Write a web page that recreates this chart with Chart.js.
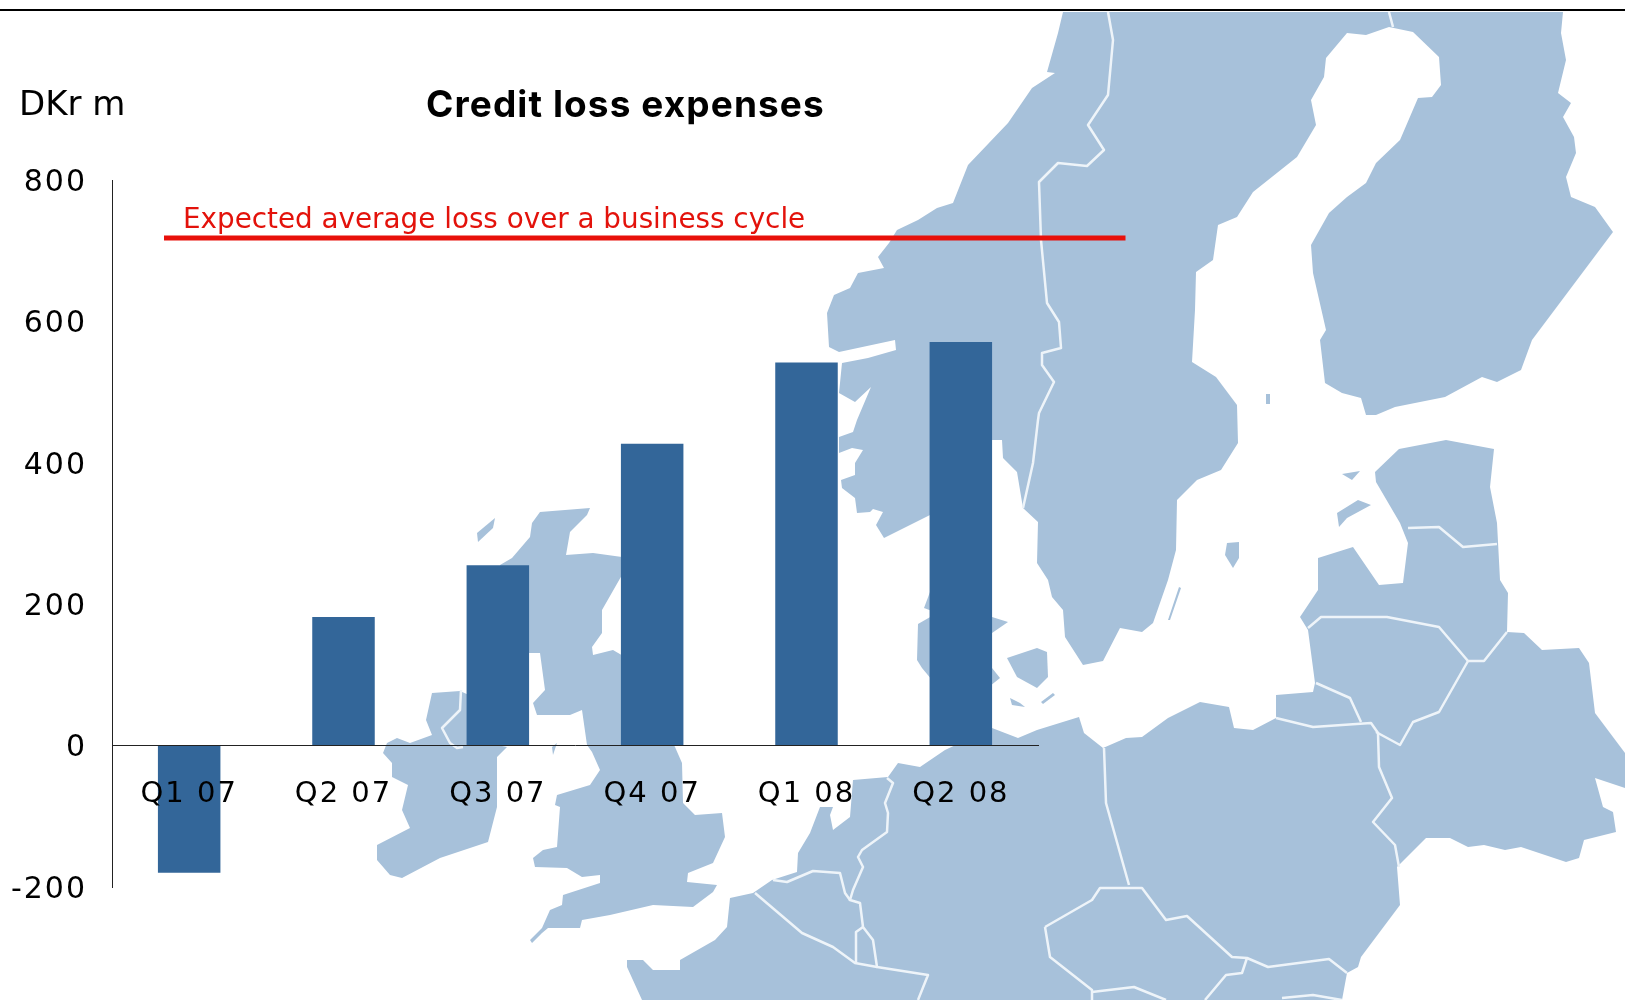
<!DOCTYPE html>
<html>
<head>
<meta charset="utf-8">
<title>Credit loss expenses</title>
<script src="https://cdn.jsdelivr.net/npm/chart.js@4/dist/chart.umd.min.js"></script>
<style>
	body { margin: 0; background: #fff; }
	canvas { display: block; }
</style>
</head>
<body>
<canvas id="creditLoss" width="1625" height="1000"></canvas>
<script>
const categories = ["Q1 07", "Q2 07", "Q3 07", "Q4 07", "Q1 08", "Q2 08"];
const creditLoss = [-180, 182, 255, 427, 542, 571];
const yTicks = [800, 600, 400, 200, 0, -200];
const expectedLoss = [718, 718];
// line start and end, as positions on the category axis (0 = Q1 07)
const expectedLossSpan = [-0.163, 6.067];

// backdrop map, traced by hand in page pixels
const mapLand = [
	// Norway, Sweden, Finland
	[1063,12,1058,33,1047,72,1055,73,1032,88,1008,123,968,165,953,203,937,208,918,220,897,230,889,243,878,257,884,268,858,273,850,288,834,295,827,313,829,347,839,352,895,340,896,350,868,358,842,363,839,393,855,402,871,387,857,420,853,432,839,437,839,453,852,448,863,450,855,463,855,475,841,480,842,488,855,498,857,513,870,512,873,509,883,512,876,525,884,538,930,515,992,470,992,440,1002,440,1003,458,1017,472,1023,508,1038,522,1037,563,1048,580,1052,597,1063,610,1065,637,1083,665,1103,661,1120,628,1142,632,1153,623,1168,580,1176,550,1177,500,1197,480,1221,470,1238,443,1237,405,1216,377,1192,362,1195,310,1196,272,1213,260,1218,225,1237,217,1253,192,1297,157,1316,125,1311,100,1324,77,1326,58,1347,33,1366,35,1389,27,1413,32,1439,57,1441,85,1432,97,1418,98,1400,140,1376,163,1366,183,1347,197,1329,213,1311,245,1313,273,1326,330,1320,340,1325,383,1342,393,1361,398,1366,415,1376,415,1395,407,1445,397,1482,377,1497,382,1521,370,1532,340,1613,232,1595,207,1571,197,1566,177,1576,153,1574,137,1563,117,1571,103,1558,93,1566,60,1561,33,1563,12],
	// continent, from the French coast round to the east edge
	[642,1000,627,967,627,960,643,960,653,970,680,970,680,960,715,940,727,927,730,898,753,893,772,880,797,872,798,853,810,833,820,807,833,807,830,815,833,830,850,817,853,780,888,777,898,763,920,767,945,750,992,728,1018,738,1037,730,1079,717,1084,733,1103,748,1126,738,1142,737,1168,718,1200,702,1229,707,1234,728,1253,730,1276,718,1276,695,1313,692,1315,683,1308,630,1300,617,1318,590,1318,558,1353,547,1379,585,1403,583,1408,543,1400,523,1376,482,1375,472,1399,449,1446,440,1494,449,1490,487,1497,523,1500,580,1508,593,1507,632,1524,633,1542,650,1579,648,1589,663,1595,713,1625,753,1625,788,1595,778,1603,807,1613,812,1616,832,1584,840,1579,858,1566,862,1521,847,1505,850,1484,845,1468,847,1450,838,1426,838,1397,867,1400,905,1361,957,1358,967,1347,973,1342,1000],
	// Great Britain
	[540,512,590,508,587,515,570,532,566,555,593,553,622,557,622,575,602,610,602,633,592,647,593,655,613,650,630,660,675,747,682,763,683,803,695,815,722,813,725,837,713,863,688,873,687,882,717,885,713,892,693,907,653,905,610,915,582,920,580,928,548,928,542,933,532,943,530,940,542,928,550,910,562,905,563,895,600,883,600,875,582,877,567,868,535,867,533,858,543,850,557,847,560,807,555,805,557,795,590,785,600,770,592,752,587,745,582,710,570,715,537,715,533,703,545,690,540,653,500,653,500,565,512,558,530,537,532,523],
	// Ireland
	[432,693,460,691,480,700,497,745,507,747,497,757,497,807,488,842,440,858,402,878,390,875,377,860,377,845,410,828,402,810,408,785,392,777,392,763,383,753,387,743,397,738,410,743,432,735,426,720],
	// Denmark
	[930,592,924,608,932,611],
	[932,616,918,624,917,660,922,668,932,680,985,690,1000,678,992,668,992,633,1008,622,992,617],
	[1007,658,1037,648,1047,652,1048,677,1037,688,1017,677],
	[1010,698,1020,703,1025,707,1012,705],
	[1041,702,1053,693,1055,695,1043,704],
	// Baltic islands and small ones
	[1227,543,1239,542,1239,558,1233,568,1225,555],
	[1337,513,1358,500,1371,505,1347,518,1339,527],
	[1342,474,1360,471,1352,480],
	[1179,587,1181,588,1170,620,1168,620],
	[1266,394,1270,394,1270,404,1266,404],
	[477,533,495,518,493,528,478,542],
	[552,747,557,743,553,755]
];
const mapBorders = [
	[1108,12,1113,40,1108,95,1088,125,1104,150,1087,166,1058,163,1039,182,1041,240,1047,303,1059,322,1061,348,1042,353,1042,365,1054,382,1039,413,1038,420,1033,463,1023,508],
	[1389,12,1393,27],
	[1408,528,1439,527,1463,547,1497,544],
	[1308,628,1321,617,1387,617,1439,627,1468,661,1484,661,1507,632],
	[1468,661,1439,712,1413,722,1400,745,1376,732],
	[1316,683,1350,698,1361,722],
	[1276,718,1313,727,1371,723,1378,733,1379,767,1392,798,1373,822,1395,845,1399,867],
	[1104,748,1106,803,1129,885],
	[1045,927,1092,900,1100,888,1142,888,1166,920,1187,916,1232,957,1247,958,1268,967,1329,959,1347,973],
	[1045,927,1050,957,1092,990,1092,1000],
	[1092,992,1134,987,1166,1000],
	[1247,958,1242,973,1226,975,1205,1000],
	[1282,998,1313,995,1342,1000],
	[887,778,893,783,885,803,888,813,887,832,862,850,858,857,863,867,853,890,850,900,860,903,863,927,873,940,877,967,928,975,918,1000],
	[773,880,787,882,813,871,840,873,845,893,850,900],
	[755,893,802,933,833,947,855,963,877,967],
	[863,927,856,932,856,963],
	[461,690,460,710,442,728,450,743,457,748,463,747]
];

function tracePoints(ctx, points) {
	ctx.beginPath();
	ctx.moveTo(points[0], points[1]);
	for (let i = 2; i < points.length; i += 2) {
		ctx.lineTo(points[i], points[i + 1]);
	}
}

const backdrop = {
	id: "backdrop",
	beforeDraw(chart) {
		const ctx = chart.ctx;
		ctx.save();
		ctx.fillStyle = "#ffffff";
		ctx.fillRect(0, 0, chart.width, chart.height);
		ctx.fillStyle = "#a7c1da";
		mapLand.forEach((points) => {
			tracePoints(ctx, points);
			ctx.closePath();
			ctx.fill();
		});
		ctx.strokeStyle = "#eef4f9";
		ctx.lineWidth = 2.5;
		ctx.lineJoin = "round";
		mapBorders.forEach((points) => {
			tracePoints(ctx, points);
			ctx.stroke();
		});
		ctx.fillStyle = "#000000";
		ctx.fillRect(0, 9, chart.width, 2);
		ctx.restore();
		// the wide look of the tick labels
		ctx.letterSpacing = "2px";
	},
};

const captions = {
	id: "captions",
	afterDraw(chart) {
		const ctx = chart.ctx;
		ctx.save();
		ctx.textBaseline = "alphabetic";
		ctx.fillStyle = "#000000";
		ctx.letterSpacing = "0px";
		ctx.font = "34px 'DejaVu Sans'";
		ctx.fillText("DKr m", 19, 115);
		ctx.letterSpacing = "1.1px";
		ctx.font = "bold 37px Inter";
		ctx.fillText("Credit loss expenses", 426, 117);
		ctx.letterSpacing = "0px";
		ctx.fillStyle = "#e3120b";
		ctx.font = "27.8px 'DejaVu Sans'";
		ctx.fillText("Expected average loss over a business cycle", 183, 228);
		ctx.restore();
	},
};

const chart = new Chart(document.getElementById("creditLoss"), {
	type: "bar",
	data: {
		labels: categories,
		datasets: [
			{
				label: "Credit loss expenses",
				data: creditLoss,
				backgroundColor: "#336699",
				borderWidth: 0,
				barPercentage: 0.405,
				categoryPercentage: 1,
			},
			{
				type: "line",
				label: "Expected average loss over a business cycle",
				data: expectedLossSpan.map((x, i) => ({ x: x, y: expectedLoss[i] })),
				parsing: false,
				borderColor: "#e8100a",
				borderWidth: 5,
				pointRadius: 0,
				clip: false,
			},
		],
	},
	options: {
		responsive: false,
		animation: false,
		layout: {
			padding: { top: 180, bottom: 113, right: 587, left: 0 },
		},
		scales: {
			x: {
				position: { y: 0 },
				border: { color: "#222222", width: 1, z: 1 },
				grid: { display: false, drawTicks: false },
				ticks: {
					z: 1,
					padding: 31,
					color: "#000000",
					maxRotation: 0,
					font: { family: "'DejaVu Sans'", size: 29 },
				},
			},
			y: {
				min: -200,
				max: 800,
				afterFit(scale) {
					scale.width = 112;
				},
				afterBuildTicks(scale) {
					scale.ticks = yTicks.map((v) => ({ value: v }));
				},
				border: { color: "#222222", width: 1 },
				grid: { display: false, drawTicks: false },
				ticks: {
					padding: 25,
					labelOffset: 3,
					color: "#000000",
					font: { family: "'DejaVu Sans'", size: 30 },
				},
			},
		},
		plugins: {
			legend: { display: false },
			title: { display: false },
			tooltip: { enabled: false },
		},
	},
	plugins: [backdrop, captions],
});
</script>
</body>
</html>
